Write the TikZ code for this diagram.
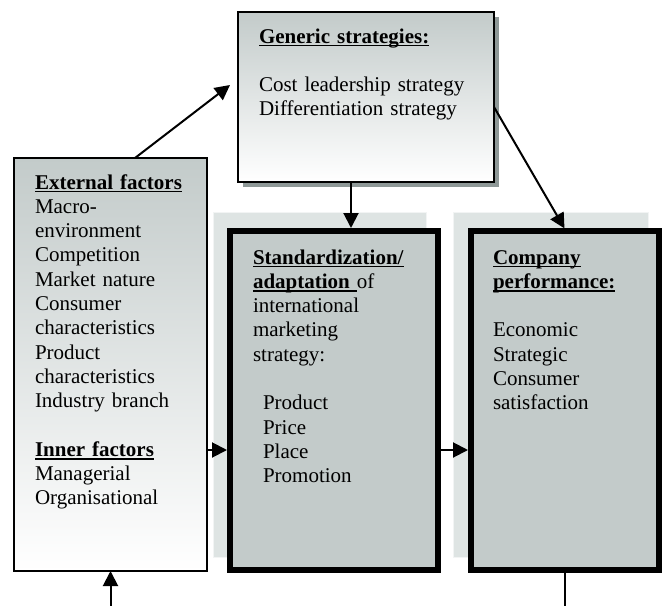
\documentclass[tikz,border=0pt]{standalone}
\usepackage{fontspec}
\setmainfont{Liberation Serif}
\usetikzlibrary{arrows.meta,calc,shadows}
\definecolor{boxgray}{HTML}{C3CBCA}
\definecolor{palegray}{HTML}{DEE4E3}
\definecolor{shadegray}{HTML}{8E9897}
\newcommand{\hdline}[1]{\leavevmode\setbox0\hbox{\textbf{#1}}\rlap{\rule[-3.4pt]{\wd0}{1.7pt}}\box0}
\begin{document}
\begin{tikzpicture}[x=1pt,y=-1pt,
  every node/.style={inner sep=0pt, outer sep=0pt},
  fadebox/.style={draw=black, line width=1.4pt, top color=boxgray, bottom color=white, anchor=north west},
  thickbox/.style={draw=black, line width=6pt, fill=boxgray, anchor=north west},
  backbox/.style={draw=white!60!palegray, line width=1pt, fill=palegray, anchor=north west},
  txt/.style={anchor=north west, align=left, font=\fontsize{21}{24.3}\selectfont, text width=#1},
  arr/.style={line width=2pt, -{Triangle[length=15pt,width=15pt]}}]
\useasboundingbox (0,0) rectangle (665,606);
\node[backbox, minimum width=213pt, minimum height=345pt] (stdbg) at (213,212) {};
\node[backbox, minimum width=195pt, minimum height=345pt] (perfbg) at (453,212) {};
\node[fadebox, drop shadow={shadow xshift=5pt, shadow yshift=-5pt, fill=shadegray, opacity=1}, minimum width=256pt, minimum height=170pt] (gen) at (238,12) {};
\node[fadebox, minimum width=193pt, minimum height=413pt] (ext) at (14,158) {};
\node[thickbox, minimum width=208pt, minimum height=339pt] (std) at (230,231) {};
\node[thickbox, minimum width=188pt, minimum height=339pt] (perf) at (471,231) {};
\node[txt=220pt] (gentxt) at (259,28) {\rule{0pt}{15pt}\hdline{Generic strategies:}\\ \mbox{}\\ Cost leadership strategy\\ Differentiation strategy};
\node[txt=170pt] (exttxt) at (35,174) {\rule{0pt}{15pt}\hdline{External factors}\\ Macro-\\ environment\\ Competition\\ Market nature\\ Consumer\\ characteristics\\ Product\\ characteristics\\ Industry branch\\ \mbox{}\\ \hdline{Inner factors}\\ Managerial\\ Organisational};
\node[txt=180pt] (stdtxt) at (253,249) {\rule{0pt}{15pt}\hdline{Standardization/}\\ \hdline{adaptation\ }of\\ international\\ marketing\\ strategy:\\ \mbox{}\\ \hspace*{10pt}Product\\ \hspace*{10pt}Price\\ \hspace*{10pt}Place\\ \hspace*{10pt}Promotion};
\node[txt=160pt] (perftxt) at (493,249) {\rule{0pt}{15pt}\hdline{Company}\\ \hdline{performance:}\\ \mbox{}\\ Economic\\ Strategic\\ Consumer\\ satisfaction};
\coordinate (inp) at (110.5,606);
\coordinate (outp) at (565,606);
\path [arr] ($(ext.north west)+(121,0)$) edge ($(gen.west)+(-8,-12)$);
\path [arr, shorten >=3pt] ($(gen.south west)+(113,0)$) edge ($(std.north west)+(121,0)$);
\path [arr, shorten >=3pt] ($(gen.east)+(0,10)$) edge ($(perf.north west)+(95,0)$);
\path [arr, shorten >=3pt] ($(ext.north east)+(0,292)$) edge ($(std.north west)+(0,219)$);
\path [arr, shorten >=3pt] ($(std.north east)+(0,219)$) edge ($(perf.north west)+(0,219)$);
\path [arr] (inp) edge (ext.south);
\path [draw, line width=2pt] (perf.south) edge (outp);
\end{tikzpicture}
\end{document}
